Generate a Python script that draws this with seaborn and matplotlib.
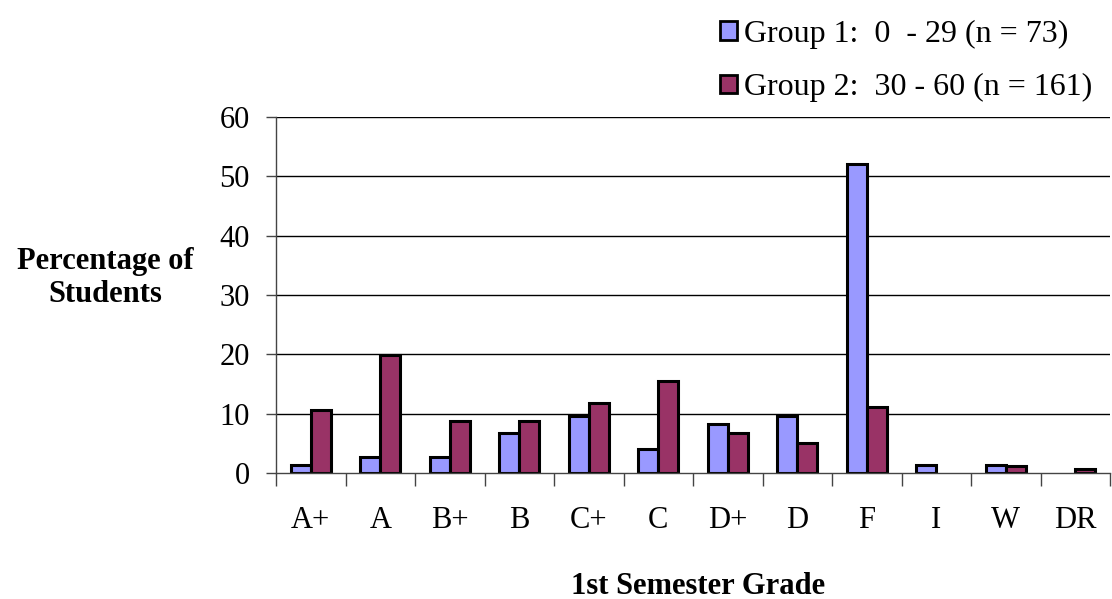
import numpy as np
import pandas as pd
import matplotlib
matplotlib.use("Agg")
import matplotlib.pyplot as plt
import seaborn as sns
from matplotlib.patches import Patch

# Values (percent of students)
grades = ["A+", "A", "B+", "B", "C+", "C", "D+", "D", "F", "I", "W", "DR"]
group1 = [1.4, 2.7, 2.7, 6.8, 9.6, 4.1, 8.2, 9.6, 52.1, 1.4, 1.4, 0.0]
group2 = [10.6, 19.9, 8.7, 8.7, 11.8, 15.5, 6.8, 5.0, 11.2, 0.0, 1.2, 0.6]
labels = ["Group 1:  0  - 29 (n = 73)", "Group 2:  30 - 60 (n = 161)"]
colors = ["#9999FF", "#993366"]

df = pd.DataFrame({
    "Grade": grades * 2,
    "Percent": group1 + group2,
    "Group": [labels[0]] * len(grades) + [labels[1]] * len(grades),
})

sns.set_style("white")
plt.rcParams["font.family"] = ["Liberation Serif", "DejaVu Serif"]
plt.rcParams["text.color"] = "black"
plt.rcParams["xtick.labelcolor"] = "black"
plt.rcParams["ytick.labelcolor"] = "black"

fig = plt.figure(figsize=(11.12, 5.99), dpi=100)
ax = fig.add_axes([276 / 1112, 1 - 473 / 599, 834 / 1112, 356 / 599])

sns.barplot(data=df, x="Grade", y="Percent", hue="Group", order=grades,
            hue_order=labels, palette=colors, saturation=1, width=0.575,
            edgecolor="black", linewidth=2.2, ax=ax, legend=False)

# empty categories have no bar in the original
for p in ax.patches:
    if p.get_height() == 0:
        p.set_visible(False)

ax.set_ylim(0, 60)
ax.set_xlim(-0.5, len(grades) - 0.5)
ax.set_yticks(range(0, 61, 10))
for y in range(10, 61, 10):
    ax.axhline(y, color="black", linewidth=1.0, zorder=0)

ax.spines["top"].set_visible(False)
ax.spines["right"].set_visible(False)
for s in ["left", "bottom"]:
    ax.spines[s].set_color("#444444")
    ax.spines[s].set_linewidth(1.0)

ax.set_xticks(np.arange(-0.5, len(grades)), minor=True)
ax.tick_params(axis="x", which="major", length=0, pad=24, labelsize=22,
               labelcolor="black")
ax.tick_params(axis="x", which="minor", length=9, width=1.0, color="#444444",
               direction="out", bottom=True)
ax.tick_params(axis="y", length=7, width=1.0, color="#444444", labelsize=22,
               pad=12, left=True, labelcolor="black")

ax.set_xlabel("")
ax.set_ylabel("")
fig.text(698 / 1112, 1 - 586 / 599, "1st Semester Grade", ha="center", va="center",
         fontsize=22, fontweight="bold", color="black")
fig.text(105 / 1112, 1 - 278 / 599, "Percentage of\nStudents", ha="center", va="center",
         fontsize=22, fontweight="bold", linespacing=1.15, color="black")

handles = [Patch(facecolor=c, edgecolor="black", linewidth=2.0) for c in colors]
fig.legend(handles, labels, loc="upper left", bbox_to_anchor=(720 / 1112, 1 - 20 / 599),
           frameon=False, fontsize=23, handlelength=0.52, handleheight=0.52,
           handletextpad=0.22, labelspacing=0.75, borderaxespad=0, borderpad=0,
           labelcolor="black")

fig.savefig("out.png", dpi=100)
